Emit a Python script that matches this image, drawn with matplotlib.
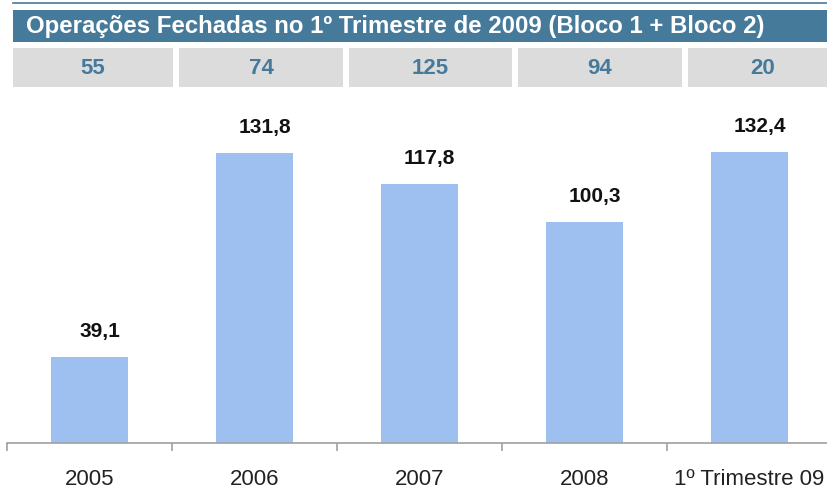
import matplotlib
matplotlib.use("Agg")
import matplotlib.pyplot as plt
from matplotlib.patches import Rectangle

# ---- data ----
categories = ["2005", "2006", "2007", "2008", "1º Trimestre 09"]
values = [39.1, 131.8, 117.8, 100.3, 132.4]
value_labels = ["39,1", "131,8", "117,8", "100,3", "132,4"]
deal_counts = [55, 74, 125, 94, 20]
title = "Operações Fechadas no 1º Trimestre de 2009 (Bloco 1 + Bloco 2)"

W, H = 828, 490
plt.rcParams['font.family'] = ['Liberation Sans', 'DejaVu Sans']
fig = plt.figure(figsize=(W / 100, H / 100), dpi=100)

def fx(x):
    return x / W

def fy(y):
    return 1 - y / H

STEEL = "#467A9B"
BAR = "#9DC0F1"
GRAY = "#DCDCDC"

# thin top line
fig.add_artist(plt.Line2D([fx(13), fx(828)], [fy(3.5), fy(3.5)], color=STEEL, lw=1.2,
                          transform=fig.transFigure))
# title bar
fig.add_artist(Rectangle((fx(13), fy(42)), fx(828 - 13), (42 - 10) / H, color=STEEL,
                         transform=fig.transFigure, lw=0))
fig.text(fx(26), fy(26.5), title, color="white", fontsize=17.3, fontweight="bold",
         ha="left", va="center")

# gray boxes with counts
box_edges = [(13, 173), (179, 343), (349, 512), (518, 682), (688, 838)]
for (x0, x1), n in zip(box_edges, deal_counts):
    fig.add_artist(Rectangle((fx(x0), fy(87)), fx(x1 - x0), (87 - 48) / H, color=GRAY,
                             transform=fig.transFigure, lw=0))
    fig.text(fx((x0 + x1) / 2), fy(68), str(n), color=STEEL, fontsize=16,
             fontweight="bold", ha="center", va="center")

# main axes: x from -0.5 (px 7) to 4.5 (px 832); y baseline at px 443, 2.2 px/unit
ymax = 150
ax_left, ax_right = 7, 832
base = 443
top = base - ymax * 2.2
ax = fig.add_axes([fx(ax_left), fy(base), fx(ax_right - ax_left), (base - top) / H])
x = list(range(len(categories)))
ax.bar(x, values, width=0.467, color=BAR, edgecolor="none")
ax.set_xlim(-0.5, len(categories) - 0.5)
ax.set_ylim(0, ymax)
for xi, v, lab in zip(x, values, value_labels):
    ax.annotate(lab, (xi, v), xytext=(10, 16), textcoords="offset pixels",
                ha="center", va="bottom", fontsize=15, fontweight="bold", color="#111111")

for s in ["top", "right", "left"]:
    ax.spines[s].set_visible(False)
ax.spines["bottom"].set_color("#A0A0A0")
ax.spines["bottom"].set_linewidth(1.2)
ax.set_yticks([])
ax.set_xticks([i - 0.5 for i in range(len(categories))], minor=False)
ax.set_xticklabels([])
ax.tick_params(axis="x", which="major", length=6, color="#A0A0A0", width=1.2, direction="out")
ax.set_xticks(x, minor=True)
ax.set_xticklabels(categories, minor=True)
ax.tick_params(axis="x", which="minor", length=0, pad=19, labelsize=16, labelcolor="#222222")

fig.savefig("out.png", dpi=100)
